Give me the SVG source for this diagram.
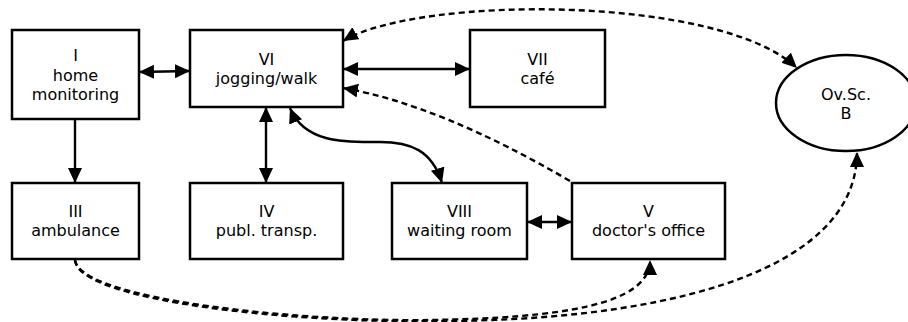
<svg xmlns="http://www.w3.org/2000/svg" width="908" height="322" viewBox="0 0 908 322">
<style>
.box{fill:#fff;stroke:#000;stroke-width:2.5}
.lbl{font-family:"DejaVu Sans",sans-serif;font-size:16px;fill:#000;text-anchor:middle}
.e{fill:none;stroke:#000;stroke-width:2.4}
.d{stroke-dasharray:6,4}
</style>
<defs>
<marker id="ah" markerUnits="userSpaceOnUse" markerWidth="16" markerHeight="15" refX="15" refY="7" orient="auto-start-reverse">
<path d="M0,0 L15,7 L0,14 z" fill="#000"/>
</marker>
</defs>
<rect width="908" height="322" fill="#fff"/>
<g id="edges">
<path class="e" d="M139,72 L190,71" marker-start="url(#ah)" marker-end="url(#ah)"/>
<path class="e" d="M343,69 L470,69" marker-start="url(#ah)" marker-end="url(#ah)"/>
<path class="e" d="M75,119 L75,183" marker-end="url(#ah)"/>
<path class="e" d="M266,107 L266,183" marker-start="url(#ah)" marker-end="url(#ah)"/>
<path class="e" d="M290,108 C305,145 350,142 380,142 C410,142 432,150 442,183" marker-start="url(#ah)" marker-end="url(#ah)"/>
<path class="e" d="M527,222 L572,222" marker-start="url(#ah)" marker-end="url(#ah)"/>
<path class="e d" d="M570,181 Q440,105 343,88" marker-end="url(#ah)"/>
<path class="e d" d="M343,41 C420,-5 720,-5 797,68" marker-start="url(#ah)" marker-end="url(#ah)"/>
<path class="e d" d="M75,260 C80,300 300,322 430,320 C560,318 650,305 650,260" marker-end="url(#ah)"/>
<path class="e d" d="M75,260 C78,302 300,323 430,321 C640,322 857,280 857,152" marker-end="url(#ah)"/>
</g>
<g id="n1"><rect class="box" x="12" y="30" width="127" height="89"/><text class="lbl" x="75.5" y="61">I</text><text class="lbl" x="75.5" y="81">home</text><text class="lbl" x="75.5" y="100">monitoring</text></g>
<g id="n6"><rect class="box" x="190" y="30" width="153" height="77"/><text class="lbl" x="266.5" y="65">VI</text><text class="lbl" x="266.5" y="84">jogging/walk</text></g>
<g id="n7"><rect class="box" x="470" y="30" width="135" height="77"/><text class="lbl" x="537.5" y="65">VII</text><text class="lbl" x="537.5" y="84">café</text></g>
<g id="nB"><ellipse class="box" cx="846" cy="103" rx="70" ry="48"/><text class="lbl" x="846" y="100">Ov.Sc.</text><text class="lbl" x="846" y="119">B</text></g>
<g id="n3"><rect class="box" x="12" y="183" width="127" height="76"/><text class="lbl" x="75.5" y="217">III</text><text class="lbl" x="75.5" y="236">ambulance</text></g>
<g id="n4"><rect class="box" x="190" y="183" width="153" height="76"/><text class="lbl" x="266.5" y="217">IV</text><text class="lbl" x="266.5" y="236">publ. transp.</text></g>
<g id="n8"><rect class="box" x="392" y="183" width="135" height="76"/><text class="lbl" x="459.5" y="217">VIII</text><text class="lbl" x="459.5" y="236">waiting room</text></g>
<g id="n5"><rect class="box" x="572" y="183" width="153" height="76"/><text class="lbl" x="648.5" y="217">V</text><text class="lbl" x="648.5" y="236">doctor's office</text></g>
</svg>
